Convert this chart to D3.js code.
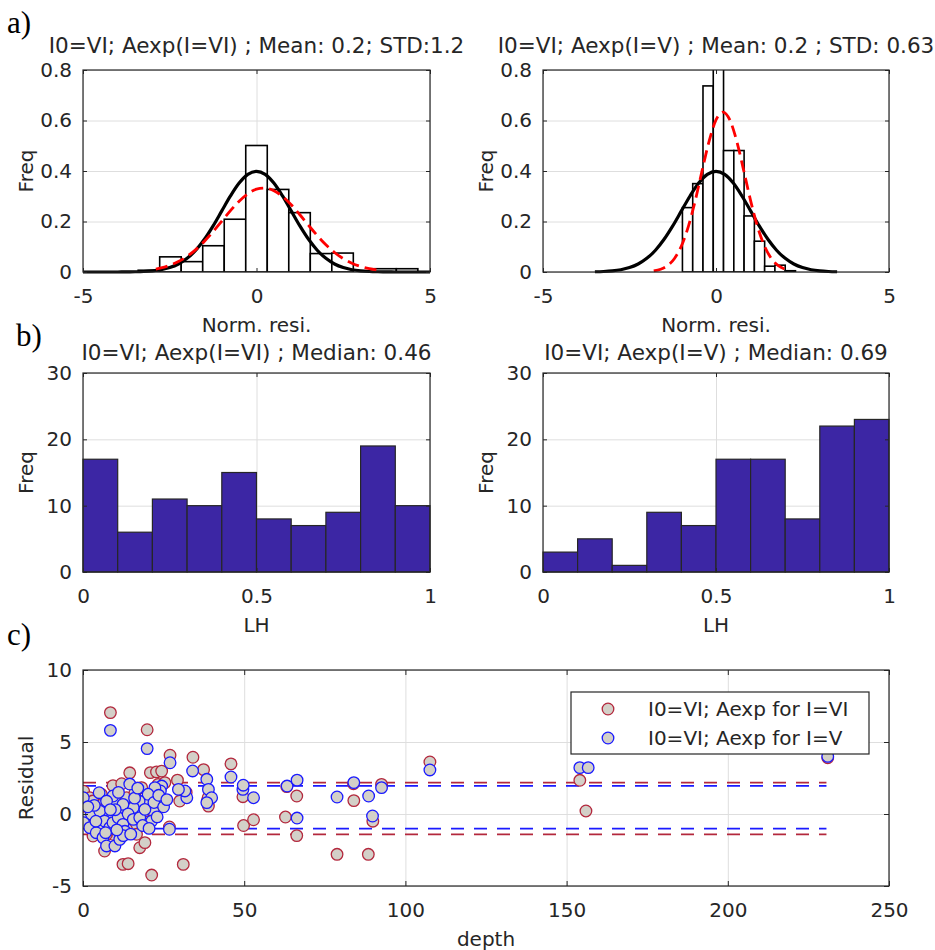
<!DOCTYPE html>
<html>
  <head>
    <meta charset="utf-8">
    <title>Residuals, LH and depth</title>
    <script src="https://d3js.org/d3.v7.min.js"></script>
    <style>
      body { margin: 0; background: #fff; }
      svg text { font-family: "DejaVu Sans", sans-serif; fill: #262626; }
      .axis text { font-size: 20px; }
      .axis line { stroke: #262626; }
      .grid line { stroke: #dedede; }
      .title { font-size: 21.5px; }
      .label { font-size: 20px; }
      .legend text { font-size: 20px; }
      .panel-letter { font-family: "Liberation Serif", serif; font-size: 31px; fill: #000; }
    </style>
  </head>
  <body>
    <svg width="935" height="950"></svg>
    <script>
      // ---- a) normalised residual histograms (probability per bin) ----
      const resTicksX = [-5, 0, 5];
      const resTicksY = [0, 0.2, 0.4, 0.6, 0.8];

      const edgesVI = [-3.41, -2.79, -2.17, -1.55, -0.93, -0.31, 0.31, 0.93, 1.55, 2.17, 2.79, 3.41, 4.03, 4.65];
      const probVI = [0.007, 0.06, 0.041, 0.104, 0.209, 0.501, 0.327, 0.235, 0.073, 0.075, 0, 0.013, 0.013];

      const edgesV = [-0.97, -0.673, -0.376, -0.079, 0.218, 0.515, 0.812, 1.109, 1.406, 1.703, 2.0, 2.297];
      const probV = [0.255, 0.35, 0.737, 0.86, 0.481, 0.481, 0.222, 0.122, 0.023, 0.027, 0.005];

      // standard normal reference curve (black)
      const stdNormal = [[-5, 0], [-4.5, 0], [-4, 0.0001], [-3.75, 0.0004], [-3.5, 0.0009], [-3.25, 0.002],
        [-3, 0.0044], [-2.75, 0.0091], [-2.5, 0.0175], [-2.25, 0.0317], [-2, 0.054], [-1.75, 0.0863],
        [-1.5, 0.1295], [-1.25, 0.1826], [-1, 0.242], [-0.75, 0.3011], [-0.5, 0.3521], [-0.25, 0.3867],
        [0, 0.3989], [0.25, 0.3867], [0.5, 0.3521], [0.75, 0.3011], [1, 0.242], [1.25, 0.1826],
        [1.5, 0.1295], [1.75, 0.0863], [2, 0.054], [2.25, 0.0317], [2.5, 0.0175], [2.75, 0.0091],
        [3, 0.0044], [3.25, 0.002], [3.5, 0.0009], [3.75, 0.0004], [4, 0.0001], [4.5, 0], [5, 0]];

      // fitted curves (red dashed)
      const fitVI = [[-2.9, 0.0118], [-2.75, 0.0162], [-2.5, 0.0265], [-2.25, 0.0414], [-2, 0.0619],
        [-1.75, 0.0888], [-1.5, 0.1219], [-1.25, 0.1602], [-1, 0.2016], [-0.75, 0.243], [-0.5, 0.2805],
        [-0.25, 0.3099], [0, 0.3279], [0.25, 0.3322], [0.5, 0.3221], [0.75, 0.2993], [1, 0.2662],
        [1.25, 0.2267], [1.5, 0.1848], [1.75, 0.1443], [2, 0.1079], [2.25, 0.0773], [2.5, 0.0531],
        [2.75, 0.0348], [3, 0.0218], [3.25, 0.0132], [3.5, 0.0076], [3.6, 0.006]];
      const fitV = [[-1.8, 0.0041], [-1.6, 0.0107], [-1.4, 0.0252], [-1.2, 0.0536], [-1, 0.1032],
        [-0.8, 0.1797], [-0.6, 0.2828], [-0.4, 0.4024], [-0.2, 0.5177], [0, 0.6021], [0.2, 0.6333],
        [0.4, 0.6021], [0.6, 0.5177], [0.8, 0.4024], [1, 0.2828], [1.2, 0.1797], [1.4, 0.1032],
        [1.6, 0.0536], [1.8, 0.0252], [2, 0.0107]];

      // ---- b) LH histograms ----
      const lhEdges = [0, 0.1, 0.2, 0.3, 0.4, 0.5, 0.6, 0.7, 0.8, 0.9, 1];
      const lhVI = [17, 6, 11, 10, 15, 8, 7, 9, 19, 10];
      const lhV = [3, 5, 1, 9, 7, 17, 17, 8, 22, 23];
      const lhTicksX = [0, 0.5, 1];
      const lhTicksY = [0, 10, 20, 30];

      // ---- c) residual vs depth ----
      const depthTicks = [0, 50, 100, 150, 200, 250];
      const residTicks = [-5, 0, 5, 10];
      const pointsVI = [[8.5, 7.04], [19.9, 5.85], [27, 4.08], [34.1, 3.94], [45.9, 3.48], [14.5, 2.86],
        [20.9, 2.87], [22.8, 2.92], [24.4, 2.98], [37.4, 3.08], [29.3, 2.35], [9.3, 1.97], [0.2, 1.58],
        [0.3, 0.2], [0.8, 0.79], [2.1, 1.13], [2.1, 0.2], [4.1, -0.49], [4.7, 0.67], [5.7, 1.37],
        [7.8, 0], [9.3, 0.44], [10.4, 0.79], [11.4, 0], [13.5, 1.13], [16.1, 1.48], [18.2, 1.83],
        [23.3, 2.06], [25.4, 2.18], [20.7, 0.9], [22.3, 0.32], [19.2, 0.2], [21.8, 0.2], [15.6, -0.72],
        [6.2, -0.95], [9.3, -1.41], [13.5, -1.06], [16.6, -1.41], [3.1, -1.53], [7.3, -1.41], [0.5, -0.25],
        [6.7, -2.57], [12.4, -3.5], [14, -3.45], [17.6, -2.34], [19.2, -1.99], [21.3, -4.24], [31.1, -3.5],
        [30, 0.9], [38.6, 0.9], [38.9, 0.55], [38.8, 1.13], [49.6, 1.2], [49.8, -0.8], [52.9, -0.4],
        [62.8, -0.21], [63.2, 1.9], [66.3, 1.25], [66.3, -1.5], [78.8, -2.8], [83.9, 2.1], [84, 0.93],
        [88.5, -2.8], [89.9, -0.5], [92.6, 2.06], [107.6, 3.61], [154.1, 2.34], [156, 0.21], [231, 3.91],
        [26.8, -0.9], [32, 1.5], [12, 2.1], [17, 0.5], [3, 0.9], [11, -0.6], [8, -1.1], [5, 0.3]];
      const pointsV = [[8.5, 5.81], [19.9, 4.54], [27, 3.56], [34, 2.99], [45.9, 2.57], [14.5, 2.08],
        [0.1, 1.13], [0.2, -0.6], [5, 1.48], [38.4, 2.41], [38.9, 1.71], [39.9, 1.13], [38.4, 0.79],
        [32.2, 1.13], [31.6, 1.6], [29.6, 1.71], [24.4, 1.94], [24, 1.6], [22.3, 1.83], [20.2, 1.37],
        [17.4, 0.9], [15.6, 0.44], [12.4, 0.67], [9.3, 1.25], [7.3, 0.9], [2.6, 0], [5.2, 0.2],
        [6.7, -0.49], [8.3, -0.95], [9.3, -0.6], [10.9, -0.25], [12.4, -0.72], [14, 0], [15.6, -0.37],
        [17.6, -0.25], [21.3, -0.49], [19.2, 0.32], [2.1, -0.95], [4.1, -1.3], [6.2, -1.64], [7.3, -2.22],
        [9.9, -2.22], [11.4, -1.76], [26.8, -1.06], [49.6, 1.71], [52.9, 1.13], [49.7, 2.0], [63.3, 1.94],
        [66.4, 2.35], [66.4, -0.28], [78.8, 1.18], [84, 2.18], [88.6, 1.25], [89.8, -0.14], [92.6, 1.83],
        [107.6, 3.06], [154.1, 3.22], [156.7, 3.22], [231, 4.0],
        [3.5, 0.6], [10, 0.3], [11, 1.5], [13, -1.2], [16, 1.1], [18.5, -0.8], [20.5, -1], [22, 0.8],
        [23, -0.2], [25, 0.5], [4, -0.5], [7, -1.3], [12.5, -1.5], [14.8, -1.4], [8.5, 0.3], [1.5, 0.5],
        [10.5, -1.1], [17, 1.8], [23.5, 1.3], [26, 1]];
      // limits drawn as dashed lines: [upper, lower], up to bandEnd depth
      const bandVI = [2.18, -1.41];
      const bandV = [1.95, -1.01];
      const bandEnd = 230.6;

      const redEdge = "#b3283d";
      const blueEdge = "#1a1aff";
      const markFill = "#d3d0c8";
      const barBlue = "#3c26a4";

      const svg = d3.select("svg");
      let clipId = 0;

      // set up a panel: group, scales and clip
      function makePanel(box, xDom, yDom) {
        const w = box.right - box.left, h = box.bottom - box.top;
        const g = svg.append("g").attr("transform", `translate(${box.left},${box.top})`);
        const x = d3.scaleLinear().domain(xDom).range([0, w]);
        const y = d3.scaleLinear().domain(yDom).range([h, 0]);
        const id = "clip" + (clipId++);
        g.append("clipPath").attr("id", id).append("rect").attr("width", w).attr("height", h);
        return { g, x, y, w, h, clip: `url(#${id})` };
      }

      function drawGrid(p, xt, yt) {
        p.g.append("g").attr("class", "grid")
          .attr("transform", `translate(0,${p.h})`)
          .call(d3.axisBottom(p.x).tickValues(xt).tickSize(-p.h).tickFormat(""))
          .call(s => s.select(".domain").remove());
        p.g.append("g").attr("class", "grid")
          .call(d3.axisLeft(p.y).tickValues(yt).tickSize(-p.w).tickFormat(""))
          .call(s => s.select(".domain").remove());
      }

      // box with inward ticks on all four sides, labels bottom and left
      function drawBox(p, xt, yt, tl) {
        const fmt = d => String(d);
        p.g.append("g").attr("class", "axis").attr("transform", `translate(0,${p.h})`)
          .call(d3.axisBottom(p.x).tickValues(xt).tickSizeInner(-tl).tickSizeOuter(0).tickPadding(17).tickFormat(fmt))
          .call(s => s.select(".domain").remove());
        p.g.append("g").attr("class", "axis")
          .call(d3.axisTop(p.x).tickValues(xt).tickSizeInner(-tl).tickSizeOuter(0).tickFormat(""))
          .call(s => s.select(".domain").remove());
        p.g.append("g").attr("class", "axis")
          .call(d3.axisLeft(p.y).tickValues(yt).tickSizeInner(-tl).tickSizeOuter(0).tickPadding(11).tickFormat(fmt))
          .call(s => s.select(".domain").remove());
        p.g.append("g").attr("class", "axis").attr("transform", `translate(${p.w},0)`)
          .call(d3.axisRight(p.y).tickValues(yt).tickSizeInner(-tl).tickSizeOuter(0).tickFormat(""))
          .call(s => s.select(".domain").remove());
        p.g.append("rect")
          .attr("width", p.w).attr("height", p.h)
          .attr("fill", "none").attr("stroke", "#262626").attr("stroke-width", 1.2);
      }

      function drawTexts(p, title, titleGap, xlab, ylab) {
        if (title) {
          p.g.append("text").attr("class", "title")
            .attr("x", p.w / 2).attr("y", -titleGap).attr("text-anchor", "middle").text(title);
        }
        p.g.append("text").attr("class", "label")
          .attr("x", p.w / 2).attr("y", p.h + 60).attr("text-anchor", "middle").text(xlab);
        p.g.append("text").attr("class", "label")
          .attr("transform", `translate(-50,${p.h / 2}) rotate(-90)`)
          .attr("text-anchor", "middle").text(ylab);
      }

      // ---- panel a) ----
      function residualPanel(box, edges, probs, normRange, fit, title) {
        const p = makePanel(box, [-5, 5], [0, 0.8]);
        drawGrid(p, resTicksX, resTicksY);
        const bars = p.g.append("g").attr("clip-path", p.clip);
        bars.selectAll("rect")
          .data(probs)
          .enter().append("rect")
          .attr("x", (d, i) => p.x(edges[i]))
          .attr("width", (d, i) => p.x(edges[i + 1]) - p.x(edges[i]))
          .attr("y", d => p.y(d))
          .attr("height", d => p.y(0) - p.y(d))
          .attr("fill", "#fff")
          .attr("stroke", "#000")
          .attr("stroke-width", 1.6);

        const line = d3.line().x(d => p.x(d[0])).y(d => p.y(d[1])).curve(d3.curveMonotoneX);
        p.g.append("path")
          .datum(stdNormal.filter(d => d[0] >= normRange[0] && d[0] <= normRange[1]))
          .attr("d", line)
          .attr("fill", "none").attr("stroke", "#000").attr("stroke-width", 3.2);
        p.g.append("path")
          .datum(fit)
          .attr("d", line)
          .attr("fill", "none").attr("stroke", "#ff0000").attr("stroke-width", 2.8)
          .attr("stroke-dasharray", "12,6");

        drawBox(p, resTicksX, resTicksY, 4);
        drawTexts(p, title, 17, "Norm. resi.", "Freq");
      }

      residualPanel({ left: 83, right: 430, top: 70, bottom: 272 }, edgesVI, probVI, [-5, 5], fitVI,
        "I0=VI; Aexp(I=VI) ; Mean: 0.2; STD:1.2");
      residualPanel({ left: 543, right: 889, top: 70, bottom: 272 }, edgesV, probV, [-3.5, 3.5], fitV,
        "I0=VI; Aexp(I=V) ; Mean: 0.2 ; STD: 0.63");

      // ---- panel b) ----
      function lhPanel(box, counts, title) {
        const p = makePanel(box, [0, 1], [0, 30]);
        drawGrid(p, lhTicksX, lhTicksY);
        p.g.append("g").selectAll("rect")
          .data(counts)
          .enter().append("rect")
          .attr("x", (d, i) => p.x(lhEdges[i]))
          .attr("width", (d, i) => p.x(lhEdges[i + 1]) - p.x(lhEdges[i]))
          .attr("y", d => p.y(d))
          .attr("height", d => p.y(0) - p.y(d))
          .attr("fill", barBlue)
          .attr("stroke", "#262626")
          .attr("stroke-width", 1.2);
        drawBox(p, lhTicksX, lhTicksY, 4);
        drawTexts(p, title, 13, "LH", "Freq");
      }

      lhPanel({ left: 83, right: 430, top: 373, bottom: 572 }, lhVI, "I0=VI; Aexp(I=VI) ; Median: 0.46");
      lhPanel({ left: 543, right: 889, top: 373, bottom: 572 }, lhV, "I0=VI; Aexp(I=V) ; Median: 0.69");

      // ---- panel c) ----
      const pc = makePanel({ left: 83, right: 889, top: 670, bottom: 886 }, [0, 250], [-5, 10]);
      drawGrid(pc, depthTicks, residTicks);

      const hline = d3.line().x(d => pc.x(d[0])).y(d => pc.y(d[1]));
      [[bandVI, redEdge], [bandV, blueEdge]].forEach(([band, col]) => {
        band.forEach(v => {
          pc.g.append("path")
            .datum([[0, v], [bandEnd, v]])
            .attr("d", hline)
            .attr("fill", "none").attr("stroke", col).attr("stroke-width", 1.8)
            .attr("stroke-dasharray", "13,10");
        });
      });

      const dots = pc.g.append("g").attr("clip-path", pc.clip);
      dots.selectAll(".dotVI")
        .data(pointsVI)
        .enter().append("circle")
        .attr("class", "dotVI")
        .attr("cx", d => pc.x(d[0]))
        .attr("cy", d => pc.y(d[1]))
        .attr("r", 5.8)
        .attr("fill", markFill).attr("stroke", redEdge).attr("stroke-width", 1.3);
      dots.selectAll(".dotV")
        .data(pointsV)
        .enter().append("circle")
        .attr("class", "dotV")
        .attr("cx", d => pc.x(d[0]))
        .attr("cy", d => pc.y(d[1]))
        .attr("r", 5.8)
        .attr("fill", markFill).attr("stroke", blueEdge).attr("stroke-width", 1.3);

      drawBox(pc, depthTicks, residTicks, 5);
      drawTexts(pc, null, 0, "depth", "Residual");

      // legend
      const legend = pc.g.append("g").attr("class", "legend").attr("transform", "translate(488,22)");
      legend.append("rect").attr("width", 298).attr("height", 62)
        .attr("fill", "#fff").attr("stroke", "#262626").attr("stroke-width", 1.2);
      const entries = [["I0=VI; Aexp for I=VI", redEdge], ["I0=VI; Aexp for I=V", blueEdge]];
      entries.forEach(([name, col], i) => {
        legend.append("circle").attr("cx", 37).attr("cy", 17 + i * 29).attr("r", 5.8)
          .attr("fill", markFill).attr("stroke", col).attr("stroke-width", 1.3);
        legend.append("text").attr("x", 77).attr("y", 17 + i * 29).attr("dy", "0.36em").text(name);
      });

      // panel letters
      svg.append("text").attr("class", "panel-letter").attr("x", 7).attr("y", 33).text("a)");
      svg.append("text").attr("class", "panel-letter").attr("x", 16).attr("y", 346).text("b)");
      svg.append("text").attr("class", "panel-letter").attr("x", 7).attr("y", 645).text("c)");
    </script>
  </body>
</html>
